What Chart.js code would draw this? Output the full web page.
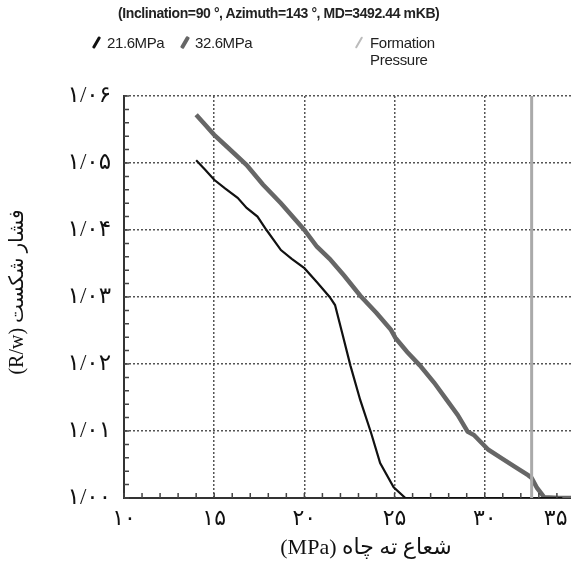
<!DOCTYPE html>
<html>
<head>
<meta charset="utf-8">
<script src="https://cdn.jsdelivr.net/npm/chart.js@4.4.1/dist/chart.umd.min.js"></script>
<style>
    body { margin: 0; background: #fff; overflow: hidden; }
    #wrap { position: relative; width: 571px; height: 572px; overflow: hidden; }
    canvas { position: absolute; left: 0; top: 0; }
    .txt { position: absolute; font-family: 'Liberation Sans Narrow', 'Liberation Sans', Arial, sans-serif; color: #222; white-space: nowrap; }
    .slash { position: absolute; width: 3px; height: 13px; transform: rotate(30deg); border-radius: 1px; }
</style>
</head>
<body>
<div id="wrap">
    <canvas id="chart" width="614" height="572"></canvas>
    <div class="txt" style="left:118px; top:5px; font-size:14px; font-weight:bold; letter-spacing:-0.4px;">(Inclination=90 °, Azimuth=143 °, MD=3492.44 mKB)</div>
    <span class="slash" style="left:95px; top:36px; background:#111;"></span>
    <div class="txt" style="left:107px; top:34px; font-size:15px; letter-spacing:-0.4px;">21.6MPa</div>
    <span class="slash" style="left:183px; top:36px; width:4px; background:#666;"></span>
    <div class="txt" style="left:195px; top:34px; font-size:15px; letter-spacing:-0.4px;">32.6MPa</div>
    <span class="slash" style="left:358px; top:36px; width:2px; background:#bbb;"></span>
    <div class="txt" style="left:370px; top:34px; font-size:15px; line-height:17px; letter-spacing:-0.3px;">Formation<br>Pressure</div>
</div>
<script>
// curve for 21.6 MPa
const blackX = [14.0, 14.5, 15.0, 15.6, 16.3, 16.8, 17.4, 17.9, 18.7, 19.3, 20.0, 20.7, 21.4, 21.7, 22.1, 22.55, 23.1, 23.7, 24.2, 24.95, 25.6, 30.0, 34.3];
const blackY = [1.0504, 1.0490, 1.0475, 1.0462, 1.0448, 1.0433, 1.0420, 1.0400, 1.0370, 1.0357, 1.0343, 1.0322, 1.0300, 1.0288, 1.0246, 1.0198, 1.0146, 1.0097, 1.0052, 1.0016, 1.0000, 1.0000, 1.0000];

// curve for 32.6 MPa
const grayX = [14.0, 14.4, 15.0, 15.8, 16.8, 17.7, 18.7, 20.0, 20.7, 21.4, 22.2, 23.1, 24.0, 24.8, 25.05, 25.7, 26.4, 27.2, 27.9, 28.5, 29.05, 29.4, 30.2, 30.9, 31.7, 32.4, 32.6, 32.9, 33.3, 34.1, 34.9];
const grayY = [1.0572, 1.0560, 1.0542, 1.0522, 1.0497, 1.0468, 1.0440, 1.0400, 1.0375, 1.0357, 1.0332, 1.0302, 1.0276, 1.0251, 1.0239, 1.0218, 1.0198, 1.0172, 1.0146, 1.0124, 1.0099, 1.0094, 1.0072, 1.0060, 1.0046, 1.0034, 1.0030, 1.0015, 1.0001, 1.0000, 1.0000];

// formation pressure line
const formationX = [32.6, 32.6];
const formationY = [1.00, 1.06];

const persianDigits = ['۰', '۱', '۲', '۳', '۴', '۵', '۶', '۷', '۸', '۹'];
const toPersian = (s) => s.replace(/[0-9]/g, d => persianDigits[d]);

const toPoints = (xs, ys) => xs.map((x, i) => ({ x: x, y: ys[i] }));

const labelFont = "'Liberation Serif', 'DejaVu Sans', serif";

// small inward ticks along the left and bottom axes
const minorTicks = {
    id: 'minorTicks',
    afterDraw(chart) {
        const ctx = chart.ctx;
        const xs = chart.scales.x;
        const ys = chart.scales.y;
        const area = chart.chartArea;
        ctx.save();
        ctx.strokeStyle = '#444';
        ctx.lineWidth = 1.5;
        ctx.beginPath();
        for (let v = 10; v <= 35; v += 1) {
            const px = xs.getPixelForValue(v);
            ctx.moveTo(px, area.bottom);
            ctx.lineTo(px, area.bottom - 5);
        }
        for (let i = 0; i <= 30; i++) {
            const py = ys.getPixelForValue(1 + i * 0.002);
            ctx.moveTo(area.left, py);
            ctx.lineTo(area.left + 5, py);
        }
        ctx.stroke();
        ctx.restore();
    }
};

const gridOpts = {
    color: '#555',
    lineWidth: 1.5,
    drawTicks: false
};

new Chart(document.getElementById('chart'), {
    type: 'scatter',
    data: {
        datasets: [
            {
                label: 'Formation Pressure',
                data: toPoints(formationX, formationY),
                showLine: true,
                borderColor: '#aaa',
                borderWidth: 3,
                pointRadius: 0
            },
            {
                label: '21.6MPa',
                data: toPoints(blackX, blackY),
                showLine: true,
                borderColor: '#111',
                borderWidth: 2.2,
                pointRadius: 0
            },
            {
                label: '32.6MPa',
                data: toPoints(grayX, grayY),
                showLine: true,
                borderColor: '#666',
                borderWidth: 4.5,
                pointRadius: 0
            }
        ]
    },
    options: {
        responsive: false,
        animation: false,
        layout: { padding: { top: 96, right: 26, left: 0, bottom: 0 } },
        plugins: {
            legend: { display: false },
            tooltip: { enabled: false }
        },
        scales: {
            x: {
                type: 'linear',
                min: 10,
                max: 35,
                ticks: {
                    stepSize: 5,
                    padding: 8,
                    color: '#111',
                    font: { family: labelFont, size: 22 },
                    // last label sits left of its tick in the original
                    callback: (v) => v === 35 ? toPersian(String(v)) + '       ' : toPersian(String(v))
                },
                grid: gridOpts,
                border: { display: true, color: '#333', width: 2, dash: [2, 2] },
                title: {
                    display: true,
                    text: '      (MPa) شعاع ته چاه',
                    color: '#111',
                    font: { family: labelFont, size: 22 },
                    padding: { top: 0, bottom: 11 }
                },
                afterFit(scale) { scale.height = 74; }
            },
            y: {
                type: 'linear',
                min: 1.00,
                max: 1.06,
                ticks: {
                    stepSize: 0.01,
                    padding: 13,
                    color: '#111',
                    font: { family: labelFont, size: 23 },
                    callback: (v) => toPersian(v.toFixed(2).replace('.', '/'))
                },
                grid: gridOpts,
                border: { display: true, color: '#333', width: 2, dash: [2, 2] },
                title: {
                    display: true,
                    text: '  (R/w) فشار شکست',
                    color: '#111',
                    font: { family: labelFont, size: 20 },
                    padding: { top: 6, bottom: 0 }
                },
                afterFit(scale) { scale.width = 124; }
            }
        }
    },
    plugins: [minorTicks]
});
</script>
</body>
</html>
